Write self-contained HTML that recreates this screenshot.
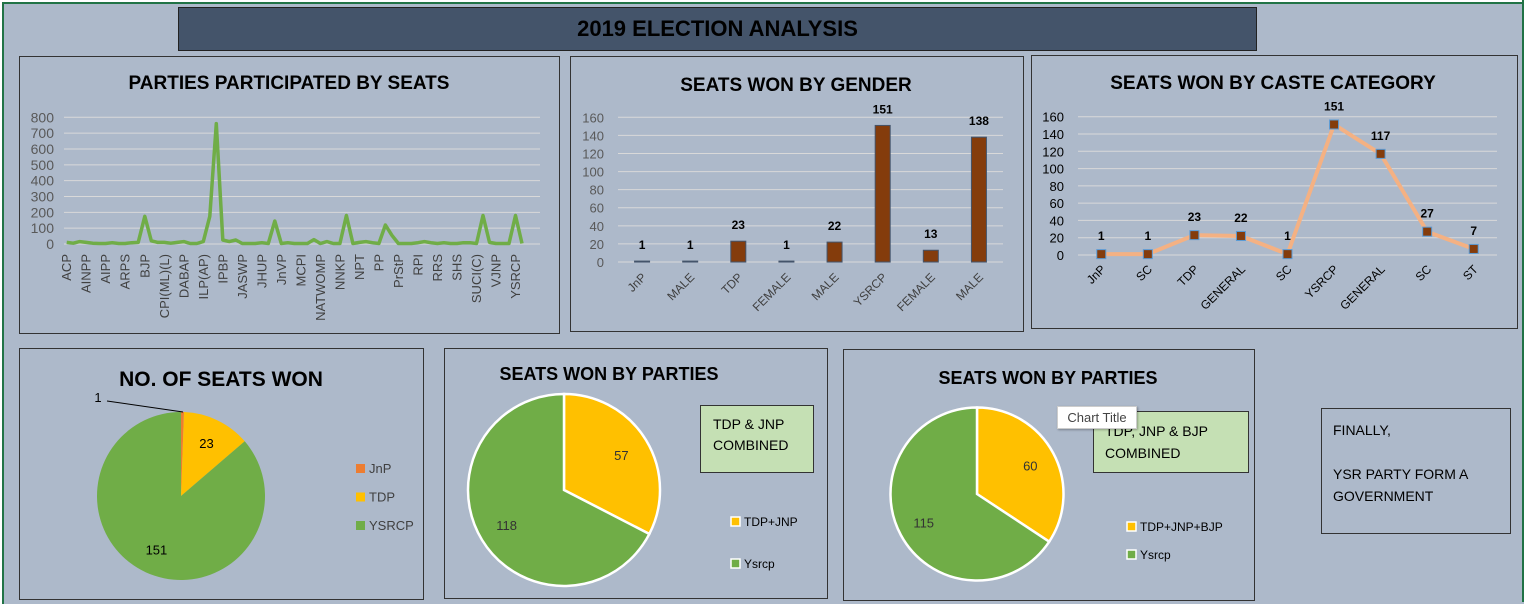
<!DOCTYPE html>
<html><head><meta charset="utf-8"><style>
html,body{margin:0;padding:0;}
body{width:1535px;height:602px;position:relative;background:#fff;font-family:"Liberation Sans",sans-serif;overflow:hidden;}
.sheet{position:absolute;left:2px;top:2px;width:1520px;height:600px;background:#adb9ca;border-left:2px solid #217346;border-top:2px solid #217346;}
.panel{position:absolute;background:#adb9ca;border:1.5px solid #333;box-sizing:border-box;}
svg text{font-family:"Liberation Sans",sans-serif;}
</style></head><body>
<div class="sheet"></div>
<div style="position:absolute;left:1522px;top:0;width:2px;height:602px;background:#217346"></div>
<div style="position:absolute;left:178px;top:7px;width:1079px;height:44px;background:#44546a;border:1px solid #222;box-sizing:border-box;text-align:center;line-height:42px;font-weight:bold;font-size:22px;color:#000">2019 ELECTION ANALYSIS</div>

<div class="panel" style="left:19px;top:56px;width:541px;height:278px"></div>
<div class="panel" style="left:570px;top:56px;width:454px;height:276px"></div>
<div class="panel" style="left:1031px;top:55px;width:487px;height:274px"></div>
<div class="panel" style="left:19px;top:348px;width:405px;height:252px"></div>
<div class="panel" style="left:444px;top:348px;width:384px;height:251px"></div>
<div class="panel" style="left:843px;top:349px;width:412px;height:252px"></div>

<svg id="chart" width="1535" height="602" style="position:absolute;left:0;top:0"></svg>

<div style="position:absolute;left:700px;top:405px;width:114px;height:68px;background:#c5e0b4;border:1.5px solid #333;box-sizing:border-box;font-size:14px;padding:8px 0 0 12px;line-height:21px">TDP &amp; JNP<br>COMBINED</div>
<div style="position:absolute;left:1093px;top:411px;width:156px;height:62px;background:#c5e0b4;border:1.5px solid #333;box-sizing:border-box;font-size:14px;padding:8px 0 0 11px;line-height:22px">TDP, JNP &amp; BJP<br>COMBINED</div>
<div style="position:absolute;left:1057px;top:406px;width:80px;height:23px;background:#fff;border:1px solid #ccc;box-sizing:border-box;font-size:13px;color:#444;text-align:center;line-height:21px;box-shadow:1px 1px 2px rgba(0,0,0,.3)">Chart Title</div>
<div style="position:absolute;left:1321px;top:408px;width:190px;height:126px;border:1.5px solid #333;box-sizing:border-box;font-size:14px;padding:10px 0 0 11px;line-height:22px">FINALLY,<br><br>YSR PARTY FORM A GOVERNMENT</div>

<script>
// ---- Data ----
const partyValues = [10,5,15,10,5,3,3,8,3,3,8,10,175,20,10,10,5,10,15,3,3,15,175,760,25,15,25,3,3,3,8,3,145,3,8,3,3,3,28,3,15,3,3,180,3,10,15,8,3,120,55,3,3,3,8,15,8,3,8,3,3,8,8,3,180,10,3,3,3,180,3];
const partyTickLabels = ["ACP","AINPP","AIPP","ARPS","BJP","CPI(ML)(L)","DABAP","ILP(AP)","IPBP","JASWP","JHUP","JnVP","MCPI","NATWOMP","NNKP","NPT","PP","PrStP","RPI","RRS","SHS","SUCI(C)","VJNP","YSRCP"];
const partyYTicks = [0,100,200,300,400,500,600,700,800];

const genderCats = ["JnP","MALE","TDP","FEMALE","MALE","YSRCP","FEMALE","MALE"];
const genderVals = [1,1,23,1,22,151,13,138];
const smallYTicks = [0,20,40,60,80,100,120,140,160];

const casteCats = ["JnP","SC","TDP","GENERAL","SC","YSRCP","GENERAL","SC","ST"];
const casteVals = [1,1,23,22,1,151,117,27,7];

const seatParties = ["JnP","TDP","YSRCP"];
const seatVals = [1,23,151];
const pie2Parties = ["TDP+JNP","Ysrcp"];
const pie2Vals = [57,118];
const pie3Parties = ["TDP+JNP+BJP","Ysrcp"];
const pie3Vals = [60,115];

const svg = document.getElementById('chart');
const NS = 'http://www.w3.org/2000/svg';
function mk(tag, attrs, parent){
  const e = document.createElementNS(NS, tag);
  for (const k in attrs) e.setAttribute(k, attrs[k]);
  (parent||svg).appendChild(e); return e;
}
function txt(x,y,s,attrs){ const t = mk('text', Object.assign({x:x,y:y},attrs)); t.textContent = s; return t; }

// ---- Chart titles ----
let t;
t = txt(289,89,'PARTIES PARTICIPATED BY SEATS',{'font-size':19,'font-weight':'bold','text-anchor':'middle'});


t = txt(796,91,'SEATS WON BY GENDER',{'font-size':19,'font-weight':'bold','text-anchor':'middle'});


t = txt(1273,89,'SEATS WON BY CASTE CATEGORY',{'font-size':19,'font-weight':'bold','text-anchor':'middle'});


t = txt(221,386,'NO. OF SEATS WON',{'font-size':21,'font-weight':'bold','text-anchor':'middle'});


t = txt(609,380,'SEATS WON BY PARTIES',{'font-size':18,'font-weight':'bold','text-anchor':'middle'});


t = txt(1048,384,'SEATS WON BY PARTIES',{'font-size':18,'font-weight':'bold','text-anchor':'middle'});



// ---- Participation line chart ----
(function(){
  const x0=66.7, x1=522, yBase=244, yTop=117.3, maxV=800;
  const n = partyValues.length;
  const sx = i => x0 + (x1-x0)*i/(n-1);
  const sy = v => yBase - (yBase-yTop)*v/maxV;
  partyYTicks.forEach(v=>{
    const g = mk('line',{x1:64,x2:540,y1:sy(v),y2:sy(v),stroke:'#d9d9d9','stroke-width':1});
    
    
    const l = txt(54,sy(v)+5,String(v),{'font-size':14,'fill':'#595959','text-anchor':'end'});
    
    
  });
  partyTickLabels.forEach((s,k)=>{
    const x = sx(k*3);
    const l = txt(0,0,s,{'font-size':13,'fill':'#404040','text-anchor':'end',transform:`translate(${x+4.5},254) rotate(-90)`});
    
    
  });
  const pts = partyValues.map((v,i)=>sx(i).toFixed(1)+','+sy(v).toFixed(1)).join(' ');
  const p = mk('polyline',{points:pts,fill:'none',stroke:'#70ad47','stroke-width':3.5,'stroke-linejoin':'round'});
  
  
})();

// ---- Gender bar chart ----
(function(){
  const xL=618, xR=1003, yBase=262, yTop=117.3, maxV=160;
  const band=(xR-xL)/genderCats.length;
  const sy = v => yBase - (yBase-yTop)*v/maxV;
  smallYTicks.forEach(v=>{
    const g = mk('line',{x1:xL,x2:xR,y1:sy(v),y2:sy(v),stroke:'#d9d9d9','stroke-width':1});
    
    
    const l = txt(604,sy(v)+5,String(v),{'font-size':13,'fill':'#595959','text-anchor':'end'});
    
    
  });
  genderVals.forEach((v,i)=>{
    const cx = xL + band*(i+0.5);
    const b = mk('rect',{x:cx-7.5,y:sy(v),width:15,height:yBase-sy(v),fill:'#843c0c',stroke:'#44546a','stroke-width':1});
    
    
    const l = txt(cx,sy(v)-12,String(v),{'font-size':12,'font-weight':'bold','text-anchor':'middle'});
    
    
    const c = txt(0,0,genderCats[i],{'font-size':12,'fill':'#404040','text-anchor':'end',transform:`translate(${cx+5},278) rotate(-45)`});
    
    
  });
})();

// ---- Caste line chart ----
(function(){
  const xL=1078, xR=1497, yBase=255, yTop=116.7, maxV=160;
  const band=(xR-xL)/casteCats.length;
  const sy = v => yBase - (yBase-yTop)*v/maxV;
  const sx = i => xL + band*(i+0.5);
  smallYTicks.forEach(v=>{
    const g = mk('line',{x1:xL,x2:xR,y1:sy(v),y2:sy(v),stroke:'#d9d9d9','stroke-width':1});
    
    
    const l = txt(1064,sy(v)+5,String(v),{'font-size':13,'fill':'#000','text-anchor':'end'});
    
    
  });
  const pts = casteVals.map((v,i)=>sx(i).toFixed(1)+','+sy(v).toFixed(1)).join(' ');
  const p = mk('polyline',{points:pts,fill:'none',stroke:'#f4b183','stroke-width':4,'stroke-linejoin':'round'});
  
  
  casteVals.forEach((v,i)=>{
    const m = mk('rect',{x:sx(i)-4.5,y:sy(v)-4.5,width:9,height:9,fill:'#843c0c',stroke:'#5b9bd5','stroke-width':1});
    
    
    const l = txt(sx(i),sy(v)-14,String(v),{'font-size':12,'font-weight':'bold','text-anchor':'middle'});
    
    
    const c = txt(0,0,casteCats[i],{'font-size':12,'fill':'#000','text-anchor':'end',transform:`translate(${sx(i)+5},270) rotate(-45)`});
    
    
  });
})();

// ---- Pies ----
function slicePath(cx,cy,r,a0,a1){
  const p0=[cx+r*Math.sin(a0),cy-r*Math.cos(a0)], p1=[cx+r*Math.sin(a1),cy-r*Math.cos(a1)];
  const large = (a1-a0)>Math.PI?1:0;
  return `M${cx},${cy} L${p0[0]},${p0[1]} A${r},${r} 0 ${large} 1 ${p1[0]},${p1[1]} Z`;
}
function pie(cx,cy,r,vals,colors,stroke,names,labelR,labelColor,prefix){
  const tot = vals.reduce((a,b)=>a+b,0);
  let a=0;
  vals.forEach((v,i)=>{
    const a1 = a + 2*Math.PI*v/tot;
    const s = mk('path',{d:slicePath(cx,cy,r,a,a1),fill:colors[i],stroke:stroke,'stroke-width':stroke==='none'?0:2.5});
    
    
    const mid=(a+a1)/2;
    if (v/tot>0.02){
      const l = txt(cx+labelR*r*Math.sin(mid),cy-labelR*r*Math.cos(mid)+5,String(v),{'font-size':13,'fill':labelColor,'text-anchor':'middle'});
      
      
    }
    a=a1;
  });
}
function legend(x,y,gap,names,colors,border,prefix,size,fill){
  names.forEach((n,i)=>{
    const r = mk('rect',{x:x,y:y+gap*i-5,width:9,height:9,fill:colors[i],stroke:border,'stroke-width':border==='none'?0:1.5});
    
    
    const l = txt(x+13,y+gap*i+4,n,{'font-size':size,'fill':fill});
    
    
  });
}
pie(181,496,84,seatVals,['#ed7d31','#ffc000','#70ad47'],'none',seatParties,0.7,'#000','seats');
(function(){
  const ld = mk('polyline',{points:'107,401 183,412',fill:'none',stroke:'#000','stroke-width':1});
  
  
  const l = txt(98,402,String(seatVals[0]),{'font-size':13,'text-anchor':'middle'});
  
  
})();
legend(356,469,28.5,seatParties,['#ed7d31','#ffc000','#70ad47'],'none','seats',13,'#404040');

pie(564,490,96,pie2Vals,['#ffc000','#70ad47'],'#fff',pie2Parties,0.7,'#333','parties1');
legend(731,522,42,pie2Parties,['#ffc000','#70ad47'],'#fff','parties1',12,'#000');

pie(977,494,86.5,pie3Vals,['#ffc000','#70ad47'],'#fff',pie3Parties,0.7,'#333','parties2');
legend(1127,527,28,pie3Parties,['#ffc000','#70ad47'],'#fff','parties2',12,'#000');
</script>
</body></html>
